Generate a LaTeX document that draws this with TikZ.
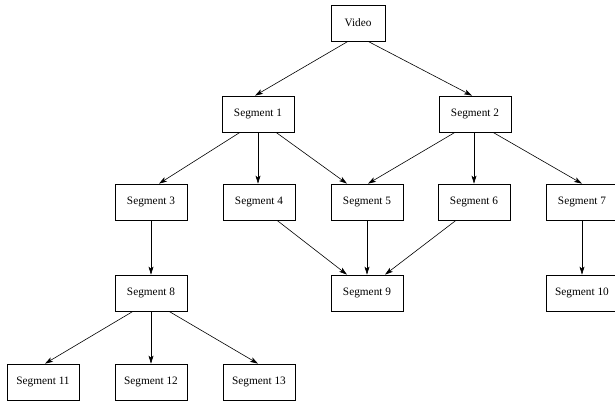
\documentclass[tikz,border=0pt]{standalone}
\usepackage{fontspec}
\setmainfont{Liberation Serif}
\usetikzlibrary{arrows.meta}
\tikzset{>={Stealth[length=8pt,width=5pt,inset=2pt]}}
\tikzset{segbox/.style={draw, line width=0.7pt, minimum width=72pt, minimum height=36pt, inner sep=0pt, font=\fontsize{11.3}{13}\selectfont}}

\begin{document}
\begin{tikzpicture}[x=1pt, y=-1pt, line width=0.6pt]
	\useasboundingbox (0,0) rectangle (615,403);
	\clip (0,0) rectangle (615,403);

	% tree of segments
	\node[segbox, minimum width=54pt] (video) at (358,23) {Video};

	\node[segbox] (seg1) at (258,114) {Segment 1};
	\node[segbox] (seg2) at (475,114) {Segment 2};

	\node[segbox] (seg3) at (151,202) {Segment 3};
	\node[segbox] (seg4) at (259,202) {Segment 4};
	\node[segbox] (seg5) at (367,202) {Segment 5};
	\node[segbox] (seg6) at (474,202) {Segment 6};
	\node[segbox] (seg7) at (582,202) {Segment 7};

	\node[segbox] (seg8) at (151,293) {Segment 8};
	\node[segbox] (seg9) at (367,293) {Segment 9};
	\node[segbox] (seg10) at (582,293) {Segment 10};

	\node[segbox] (seg11) at (43,382) {Segment 11};
	\node[segbox] (seg12) at (151,382) {Segment 12};
	\node[segbox] (seg13) at (259,382) {Segment 13};

	% arrows
	\draw[->] ([xshift=-10pt]video.south) -- ([xshift=-3pt]seg1.north);
	\draw[->] ([xshift=10pt]video.south) -- ([xshift=-3pt]seg2.north);

	\draw[->] ([xshift=-18pt]seg1.south) -- ([xshift=8pt]seg3.north);
	\draw[->] (seg1.south) -- (seg1.south |- seg4.north);
	\draw[->] ([xshift=18pt]seg1.south) -- ([xshift=-20pt]seg5.north);
	\draw[->] ([xshift=-20pt]seg2.south) -- ([xshift=1pt]seg5.north);
	\draw[->] (seg6.north |- seg2.south) -- (seg6.north);
	\draw[->] ([xshift=18pt]seg2.south) -- (seg7.north);

	\draw[->] (seg3) -- (seg8);
	\draw[->] ([xshift=18pt]seg4.south) -- ([xshift=-20pt]seg9.north);
	\draw[->] (seg5) -- (seg9);
	\draw[->] ([xshift=-18pt]seg6.south) -- ([xshift=18pt]seg9.north);
	\draw[->] (seg7) -- (seg10);

	\draw[->] ([xshift=-18pt]seg8.south) -- ([xshift=2pt]seg11.north);
	\draw[->] (seg8) -- (seg12);
	\draw[->] ([xshift=18pt]seg8.south) -- ([xshift=-1pt]seg13.north);
\end{tikzpicture}
\end{document}
